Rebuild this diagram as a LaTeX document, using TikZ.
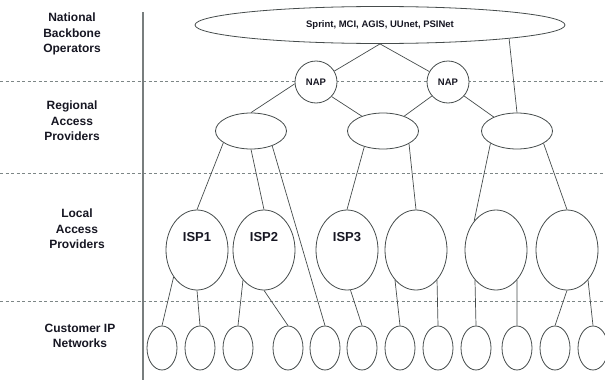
\documentclass[tikz,border=0pt]{standalone}
\usepackage{fontspec}
\setmainfont{Liberation Sans}
\usetikzlibrary{shapes.geometric}
\definecolor{linegrey}{RGB}{70,76,76}
\definecolor{dashgrey}{RGB}{125,134,134}
\definecolor{axisgrey}{RGB}{120,126,126}
\definecolor{labelink}{RGB}{22,22,34}

\begin{document}
\begin{tikzpicture}[x=1pt,y=-1pt]

%
% Styles
%
\tikzstyle{backbone} = [ellipse,draw=linegrey,fill=white,line width=0.8pt,minimum width=370pt,minimum height=37pt,inner sep=0pt,text=labelink,font=\fontsize{9.5}{11}\selectfont\bfseries]
\tikzstyle{nap}      = [ellipse,draw=linegrey,fill=white,line width=0.8pt,minimum width=42pt,minimum height=42pt,inner sep=0pt,text=labelink,font=\fontsize{9.5}{11}\selectfont\bfseries]
\tikzstyle{regional} = [ellipse,draw=linegrey,fill=white,line width=0.8pt,minimum width=71pt,minimum height=36pt,inner sep=0pt]
\tikzstyle{isp}      = [ellipse,draw=linegrey,fill=white,line width=0.8pt,minimum width=62pt,minimum height=80pt,inner sep=0pt]
\tikzstyle{cust}     = [ellipse,draw=linegrey,fill=white,line width=0.8pt,minimum width=30pt,minimum height=44pt,inner sep=0pt]
\tikzstyle{link}     = [draw=linegrey,line width=0.7pt]
\tikzstyle{divider}  = [draw=dashgrey,line width=0.8pt,dash pattern=on 3pt off 2.5pt]
\tikzstyle{tier}     = [align=center,text=labelink,inner sep=0pt,font=\fontsize{12}{15.5}\selectfont\bfseries]
\tikzstyle{ispname}  = [text=labelink,inner sep=0pt,font=\fontsize{13}{15}\selectfont\bfseries]

\useasboundingbox (0,0) rectangle (605,380);

% tier borders and the axis
\draw[divider] (0,81)  -- (605,81);
\draw[divider] (0,173) -- (605,173);
\draw[divider] (0,301) -- (605,301);
\draw[draw=axisgrey,line width=1.3pt] (143,12) -- (143,380);

% tier names
\node[tier] (tnbo)  at (72,34)  {National\\Backbone\\Operators};
\node[tier] (trap)  at (72,121) {Regional\\Access\\Providers};
\node[tier] (tlap)  at (77,229) {Local\\Access\\Providers};
\node[tier] (tcust) at (80,336) {Customer IP\\Networks};

% backbone and access points
\node[backbone] (nbo)  at (380,25) {Sprint, MCI, AGIS, UUnet, PSINet};
\node[nap]      (nap1) at (316,82) {NAP};
\node[nap]      (nap2) at (448,82) {NAP};

% regional providers
\node[regional] (rap1) at (251,131) {};
\node[regional] (rap2) at (383,131) {};
\node[regional] (rap3) at (517,131) {};

% local providers
\node[isp] (isp1) at (197,250) {};
\node[isp] (isp2) at (264,250) {};
\node[isp] (isp3) at (347,250) {};
\node[isp] (isp4) at (416,250) {};
\node[isp] (isp5) at (496,250) {};
\node[isp] (isp6) at (567,250) {};
\node[ispname] (isp1t) at (197,237) {ISP1};
\node[ispname] (isp2t) at (264,237) {ISP2};
\node[ispname] (isp3t) at (347,237) {ISP3};

% customer networks
\foreach \x [count=\i] in {162,200,238,288,325,362,400,438,476,517,555,593}
  \node[cust] (cust\i) at (\x,348) {};

% backbone down to the regionals
\draw[link] (nbo.south) -- (nap1);
\draw[link] (nbo.south) -- (nap2);
\draw[link] (nbo.-6)    -- (rap3.north);
\draw[link] (nap1.185)  -- (rap1.north);
\draw[link] (nap1.-43)  -- (rap2.145);
\draw[link] (nap2.221)  -- (rap2.35);
\draw[link] (nap2.-41)  -- (rap3.149);

% regionals down to the ISPs
\draw[link] (rap1.203)  -- (isp1.north);
\draw[link] (rap1.south) -- (isp2.north);
\draw[link] (rap1.-35)  -- (cust5.north);
\draw[link] (rap2.-140) -- (isp3.north);
\draw[link] (rap2.-26)  -- (isp4.north);
\draw[link] (rap3.-155) -- (isp5.127);
\draw[link] (rap3.-25)  -- (isp6.north);

% ISPs down to the customers
\draw[link] (isp1.229)  -- (cust1.north);
\draw[link] (isp1.south) -- (cust2.north);
\draw[link] (isp2.-125) -- (cust3.north);
\draw[link] (isp2.south) -- (cust4.north);
\draw[link] (isp3.-85)  -- (cust6.north);
\draw[link] (isp4.-125) -- (cust7.north);
\draw[link] (isp4.-55)  -- (cust8.north);
\draw[link] (isp5.-125) -- (cust9.north);
\draw[link] (isp5.-55)  -- (cust10.north);
\draw[link] (isp6.south) -- (cust11.north);
\draw[link] (isp6.-55)  -- (cust12.north);

\end{tikzpicture}
\end{document}
